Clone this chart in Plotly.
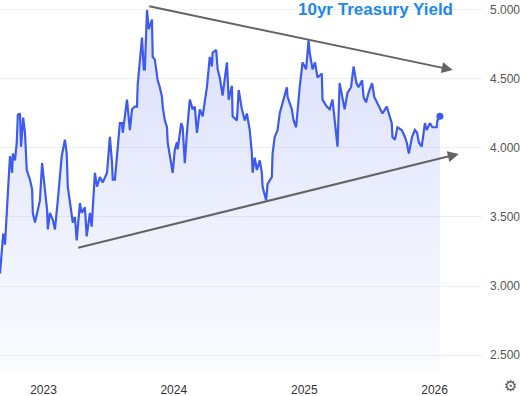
import plotly.graph_objects as go

dates = [
"2022-09-01","2022-09-10","2022-09-15","2022-09-20","2022-09-23","2022-09-29","2022-10-05","2022-10-07","2022-10-13","2022-10-18",
"2022-10-21","2022-10-27","2022-10-30","2022-11-05","2022-11-10","2022-11-15","2022-11-24","2022-11-30","2022-12-02","2022-12-08",
"2022-12-14","2022-12-22","2022-12-28","2022-12-30","2023-01-05","2023-01-11","2023-01-13","2023-01-19","2023-01-27","2023-02-02",
"2023-02-10","2023-02-21","2023-03-02","2023-03-07","2023-03-10","2023-03-16","2023-03-21","2023-03-24","2023-03-30","2023-04-04",
"2023-04-13","2023-04-18","2023-04-27","2023-05-02","2023-05-11","2023-05-16","2023-05-25","2023-05-31","2023-06-08","2023-06-16",
"2023-06-28","2023-07-06","2023-07-12","2023-07-14","2023-07-20","2023-07-26","2023-07-28","2023-08-03","2023-08-09","2023-08-11",
"2023-08-23","2023-08-25","2023-08-31","2023-09-06","2023-09-14","2023-09-20","2023-09-22","2023-10-04","2023-10-06","2023-10-09",
"2023-10-12","2023-10-18","2023-10-23","2023-11-01","2023-11-03","2023-11-09","2023-11-17","2023-11-23","2023-11-29","2023-12-01",
"2023-12-07","2023-12-13","2023-12-15","2023-12-21","2023-12-27","2023-12-29","2024-01-04","2024-01-10","2024-01-12","2024-01-22",
"2024-01-26","2024-02-01","2024-02-07","2024-02-15","2024-02-23","2024-02-29","2024-03-06","2024-03-14","2024-03-22","2024-03-28",
"2024-04-03","2024-04-11","2024-04-17","2024-04-19","2024-04-29","2024-05-03","2024-05-09","2024-05-17","2024-05-29","2024-06-03",
"2024-06-12","2024-06-14","2024-06-26","2024-07-01","2024-07-10","2024-07-18","2024-07-24","2024-08-01","2024-08-07","2024-08-09",
"2024-08-15","2024-08-21","2024-08-29","2024-09-04","2024-09-06","2024-09-16","2024-09-20","2024-10-02","2024-10-04","2024-10-10",
"2024-10-18","2024-10-24","2024-11-01","2024-11-13","2024-11-15","2024-11-27","2024-12-02","2024-12-09","2024-12-19","2024-12-27",
"2025-01-06","2025-01-13","2025-01-16","2025-01-24","2025-01-31","2025-02-07","2025-02-19","2025-02-21","2025-03-05","2025-03-13",
"2025-03-21","2025-03-27","2025-04-04","2025-04-10","2025-04-18","2025-04-24","2025-05-02","2025-05-12","2025-05-19","2025-05-27",
"2025-06-02","2025-06-12","2025-06-16","2025-06-23","2025-06-30","2025-07-10","2025-07-16","2025-07-24","2025-08-01","2025-08-08",
"2025-08-20","2025-08-26","2025-09-03","2025-09-05","2025-09-12","2025-09-19","2025-10-01","2025-10-10","2025-10-15","2025-10-21",
"2025-10-30","2025-11-07","2025-11-13","2025-11-18","2025-11-26","2025-12-05","2025-12-10","2025-12-19","2025-12-26","2026-01-07",
"2026-01-09","2026-01-16",
]
yields = [
3.09,3.38,3.30,3.57,3.67,3.94,3.82,3.96,3.91,4.04,
4.24,4.25,4.01,4.22,4.11,3.84,3.77,3.70,3.53,3.46,
3.53,3.62,3.89,3.84,3.65,3.55,3.41,3.53,3.48,3.41,
3.62,3.94,4.06,3.96,3.72,3.62,3.53,3.46,3.50,3.33,
3.60,3.53,3.57,3.36,3.53,3.43,3.82,3.72,3.79,3.75,
3.82,4.08,3.89,3.77,3.77,3.94,4.01,4.18,4.18,4.11,
4.35,4.28,4.13,4.28,4.30,4.30,4.46,4.80,4.69,4.57,
4.57,5.00,4.86,4.93,4.66,4.64,4.49,4.44,4.37,4.30,
4.20,4.15,4.04,3.94,3.86,3.82,3.99,4.04,3.99,4.18,
4.15,3.89,4.11,4.35,4.28,4.30,4.11,4.28,4.23,4.35,
4.44,4.66,4.59,4.69,4.71,4.57,4.51,4.38,4.62,4.35,
4.45,4.23,4.20,4.42,4.28,4.20,4.25,4.13,3.96,3.82,
3.93,3.84,3.91,3.82,3.72,3.62,3.74,3.79,3.96,4.08,
4.13,4.25,4.33,4.44,4.37,4.28,4.20,4.15,4.44,4.62,
4.57,4.78,4.69,4.57,4.62,4.51,4.54,4.35,4.30,4.28,
4.35,4.18,4.01,4.47,4.37,4.28,4.40,4.44,4.59,4.47,
4.44,4.49,4.37,4.33,4.40,4.47,4.37,4.33,4.28,4.25,
4.30,4.25,4.18,4.08,4.06,4.15,4.13,4.08,4.04,3.96,
4.08,4.13,4.11,4.04,4.01,4.18,4.13,4.18,4.15,4.15,
4.20,4.23,
]

upper_trend_dates = ["2023-10-20", "2026-02-21"]
upper_trend_vals = [5.029, 4.565]
lower_trend_dates = ["2023-04-04", "2026-03-10"]
lower_trend_vals = [3.275, 3.957]

y_ticks = [2.5, 3.0, 3.5, 4.0, 4.5, 5.0]
y_tick_text = ["2.500", "3.000", "3.500", "4.000", "4.500", "5.000"]
x_ticks = ["2023-01-01", "2024-01-01", "2025-01-01", "2026-01-01"]
x_tick_text = ["2023", "2024", "2025", "2026"]

title_text = "10yr Treasury Yield"

BLUE = "#3d5af1"

fig = go.Figure()
fig.add_trace(go.Scatter(
    x=dates, y=yields, mode="lines",
    line=dict(color=BLUE, width=2.2),
    fill="tozeroy",
    fillgradient=dict(type="vertical", start=2.38, stop=5.0,
                      colorscale=[[0, "rgba(70,95,240,0.02)"], [1, "rgba(70,95,240,0.20)"]]),
    hoverinfo="skip", showlegend=False,
))
fig.add_trace(go.Scatter(
    x=[dates[-1]], y=[yields[-1]], mode="markers",
    marker=dict(color=BLUE, size=7),
    hoverinfo="skip", showlegend=False,
))

for ds, vs in [(upper_trend_dates, upper_trend_vals), (lower_trend_dates, lower_trend_vals)]:
    fig.add_annotation(
        x=ds[1], y=vs[1], ax=ds[0], ay=vs[0],
        xref="x", yref="y", axref="x", ayref="y",
        text="", showarrow=True, arrowhead=2, arrowsize=1.1,
        arrowwidth=2, arrowcolor="#646464", standoff=0,
    )

fig.add_annotation(
    x=455/482, y=1 - 10/372, xref="paper", yref="paper", text="<b>" + title_text + "</b>",
    showarrow=False, xanchor="right", yanchor="middle",
    font=dict(family="Liberation Sans, Arial", size=17, color="#1e88f0"),
)

fig.add_annotation(
    x=1, y=0, xref="paper", yref="paper", xanchor="right", yanchor="middle",
    text="⚙", showarrow=False, xshift=37, yshift=-14,
    font=dict(family="DejaVu Sans", size=15, color="#555555"),
)

fig.update_layout(
    width=525, height=396,
    margin=dict(l=0, r=43, t=0, b=24, autoexpand=False),
    paper_bgcolor="white", plot_bgcolor="white",
    xaxis=dict(
        type="date", range=["2022-09-01", "2026-05-14"],
        tickvals=x_ticks, ticktext=x_tick_text, showgrid=False, zeroline=False,
        showline=False, ticks="", ticklabelstandoff=9,
        tickfont=dict(family="Liberation Sans, Arial", size=12, color="#333333"),
    ),
    yaxis=dict(
        side="right", range=[2.377, 5.072], tickvals=y_ticks, ticktext=y_tick_text,
        showgrid=True, gridcolor="#eceff8", gridwidth=1, zeroline=False, showline=False,
        ticks="", ticklabelstandoff=7,
        tickfont=dict(family="Liberation Sans, Arial", size=12, color="#555555"),
    ),
)

fig.write_html("out.html", config={"displayModeBar": False},
               post_script="document.body.style.margin='0';document.body.style.overflow='hidden';")
